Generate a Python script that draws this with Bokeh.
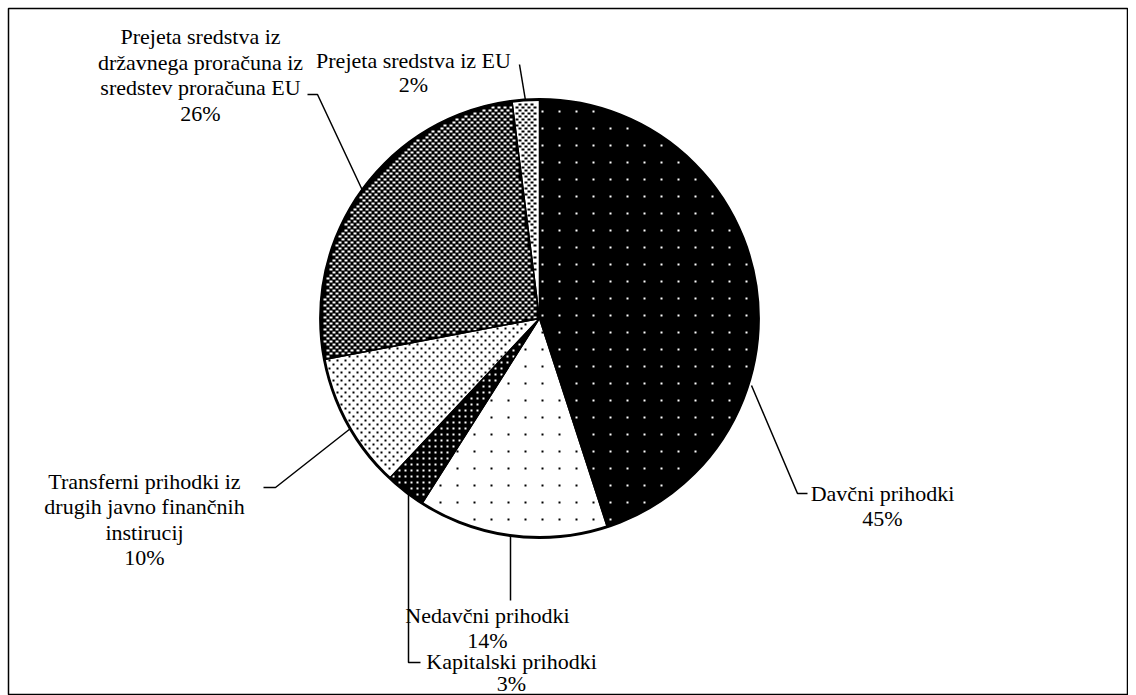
import numpy as np
from bokeh.plotting import figure
from bokeh.models import Range1d
from bokeh.core.properties import value
from bokeh.embed import file_html
from bokeh.resources import INLINE

# ---------------- data ----------------
categories = [
    "Davčni prihodki",
    "Nedavčni prihodki",
    "Kapitalski prihodki",
    "Transferni prihodki iz drugih javno finančnih instirucij",
    "Prejeta sredstva iz državnega proračuna iz sredstev proračuna EU",
    "Prejeta sredstva iz EU",
]
shares = [45, 14, 3, 10, 26, 2]
label_lines = [
    ["Davčni prihodki"],
    ["Nedavčni prihodki"],
    ["Kapitalski prihodki"],
    ["Transferni prihodki iz", "drugih javno finančnih", "instirucij"],
    ["Prejeta sredstva iz", "državnega proračuna iz", "sredstev proračuna EU"],
    ["Prejeta sredstva iz EU"],
]

# ---------------- layout (page pixel coords) ----------------
FW, FH = 1120, 687          # frame size
def dx(X): return X - 8
def dy(Y): return 695 - Y

CX, CY, R = 539, 318, 219
label_pos = [  # (center x, first line y, line spacing)
    (882, 493, 25),
    (487, 615, 25),
    (511, 661, 22),
    (144, 481, 25.3),
    (200, 36, 25.5),
    (413, 60, 24),
]
leaders = [
    [(751, 385), (797, 493), (807, 493)],
    [(510, 535), (510, 600)],
    [(408, 493), (408, 662), (420, 662)],
    [(350, 428), (275, 487), (263, 487)],
    [(362, 190), (317, 94), (307, 94)],
    [(525, 100), (519, 64)],
]
# texture: (fill, dot colour, step x, step y, row stagger, dot w, dot h)
textures = [
    ("black", "white", 17, 17, 0, 2, 2),
    ("white", "black", 17, 17, 0, 2, 2),
    ("black", "white", 6, 6, 0, 2, 2),
    ("white", "black", 8, 4, 4, 2, 2),
    ("black", "white", 6, 3, 3, 3, 2),
    ("white", "black", 6, 3, 3, 3, 2),
]

p = figure(width=FW + 8, height=FH + 8, output_backend="svg", toolbar_location=None,
           x_range=Range1d(0, FW), y_range=Range1d(0, FH),
           min_border_left=8, min_border_top=8, min_border_right=0, min_border_bottom=0,
           background_fill_color="white", border_fill_color="white")
p.axis.visible = False
p.grid.visible = False
p.outline_line_color = "black"
p.outline_line_width = 1.5

frac = np.array(shares, dtype=float) / sum(shares)
cum = np.concatenate([[0], np.cumsum(frac)])
starts = np.pi / 2 - 2 * np.pi * cum[:-1]
ends = np.pi / 2 - 2 * np.pi * cum[1:]
cx, cy = dx(CX), dy(CY)

def slice_of(px, py):
    th = np.arctan2(py - cy, px - cx)
    f = np.mod(np.pi / 2 - th, 2 * np.pi) / (2 * np.pi)
    return np.searchsorted(cum, f, side="right") - 1

def tex_rects(i, sx, sy, stagger, w, h):
    xs = np.arange(cx - R, cx + R + sx, sx, dtype=float)
    ys = np.arange(cy - R, cy + R + sy, sy, dtype=float)
    X, Y = np.meshgrid(xs, ys)
    rows = np.repeat(np.arange(len(ys))[:, None], len(xs), axis=1)
    X = (X + (rows % 2) * stagger).ravel()
    Y = Y.ravel()
    ok = np.ones(X.shape, bool)
    for ox, oy in [(0, 0), (w, 0), (0, h), (w, h)]:
        ok &= (np.hypot(X + ox - cx, Y + oy - cy) < R - 1.5) & (slice_of(X + ox, Y + oy) == i)
    return X[ok], Y[ok]

for i in range(len(shares)):
    fill, dot, sx, sy, stg, w, h = textures[i]
    p.wedge(x=cx, y=cy, radius=R, start_angle=starts[i], end_angle=ends[i],
            direction="clock", fill_color=fill, line_color=None)
    X, Y = tex_rects(i, sx, sy, stg, w, h)
    p.quad(left=X, right=X + w, bottom=Y, top=Y + h, fill_color=dot, line_color=None)

for i in range(len(shares)):
    p.wedge(x=cx, y=cy, radius=R, start_angle=starts[i], end_angle=ends[i],
            direction="clock", fill_color=None, line_color="black", line_width=1.3)
# outer rim
p.circle(x=[cx], y=[cy], radius=R, fill_color=None, line_color="black", line_width=2.8)

for pts in leaders:
    p.line([dx(a) for a, b in pts], [dy(b) for a, b in pts], line_color="black", line_width=1.5)

for i, lines in enumerate(label_lines):
    all_lines = lines + [f"{shares[i]}%"]
    x0, y0, sp = label_pos[i]
    p.text(x=[dx(x0)] * len(all_lines), y=[dy(y0 + k * sp) for k in range(len(all_lines))],
           text=all_lines, text_font=value("Liberation Serif"), text_font_size="22px",
           text_align="center", text_baseline="alphabetic", text_color="black")

open("out.html", "w").write(file_html(p, INLINE))
